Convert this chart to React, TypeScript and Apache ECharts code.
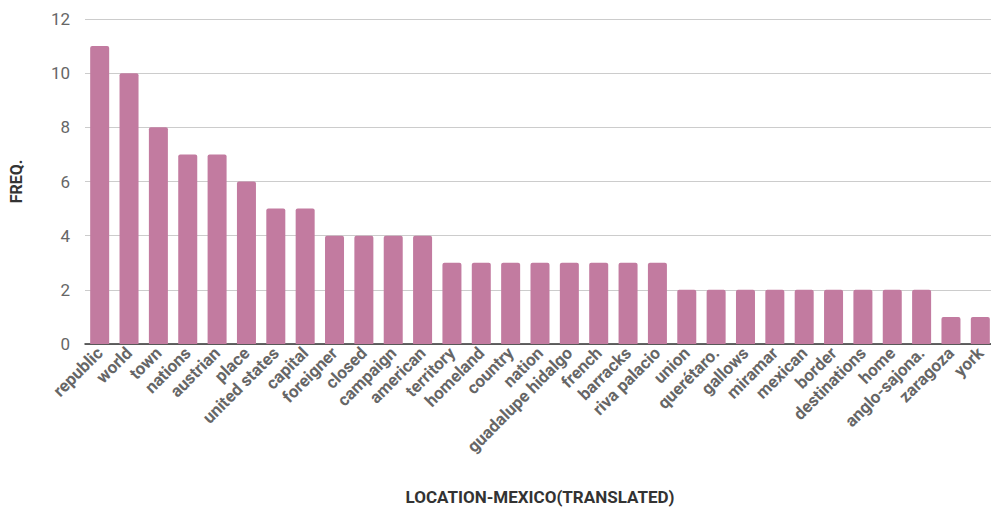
import React, { useEffect, useRef } from "react";
import * as echarts from "echarts";

const categories = [
  "republic", "world", "town", "nations", "austrian", "place", "united states", "capital",
  "foreigner", "closed", "campaign", "american", "territory", "homeland", "country", "nation",
  "guadalupe hidalgo", "french", "barracks", "riva palacio", "union", "querétaro.", "gallows",
  "miramar", "mexican", "border", "destinations", "home", "anglo-sajona.", "zaragoza", "york",
];
const freq = [11, 10, 8, 7, 7, 6, 5, 5, 4, 4, 4, 4, 3, 3, 3, 3, 3, 3, 3, 3, 2, 2, 2, 2, 2, 2, 2, 2, 2, 1, 1];
const yTicks = { min: 0, max: 12, interval: 2 };

export default function App() {
  const ref = useRef<HTMLDivElement>(null);
  useEffect(() => {
    const chart = echarts.init(ref.current!, null, { renderer: "svg" });
    chart.setOption({
      animation: false,
      textStyle: { fontFamily: "Roboto" },
      grid: { left: 83, right: 4, top: 19, bottom: 174 },
      xAxis: {
        type: "category",
        data: categories,
        name: "LOCATION-MEXICO(TRANSLATED)",
        nameLocation: "middle",
        nameGap: 153,
        nameTextStyle: { fontFamily: "Roboto", fontWeight: "bold", fontSize: 17, color: "#333", verticalAlign: "middle" },
        axisLine: { lineStyle: { color: "#333", width: 1.5 } },
        axisTick: { show: false },
        axisLabel: {
          rotate: 45,
          interval: 0,
          fontFamily: "Roboto",
          fontWeight: "bold",
          fontSize: 17,
          color: "#666",
          margin: 6,
        },
      },
      yAxis: {
        type: "value",
        min: yTicks.min,
        max: yTicks.max,
        interval: yTicks.interval,
        name: "FREQ.",
        nameLocation: "middle",
        nameGap: 69,
        nameTextStyle: { fontFamily: "Roboto", fontWeight: "bold", fontSize: 16, color: "#333", verticalAlign: "middle" },
        axisLabel: { fontFamily: "Roboto", fontSize: 17, color: "#666", margin: 15 },
        axisLine: { show: false },
        axisTick: { show: false },
        splitLine: { lineStyle: { color: "#ccc", width: 1 } },
      },
      series: [
        {
          type: "bar",
          data: freq,
          barWidth: 19,
          itemStyle: { color: "#c27ba0", borderRadius: [2, 2, 0, 0] },
        },
      ],
    });
    return () => chart.dispose();
  }, []);
  return <div ref={ref} style={{ width: 999, height: 518, margin: -8 }} />;
}
